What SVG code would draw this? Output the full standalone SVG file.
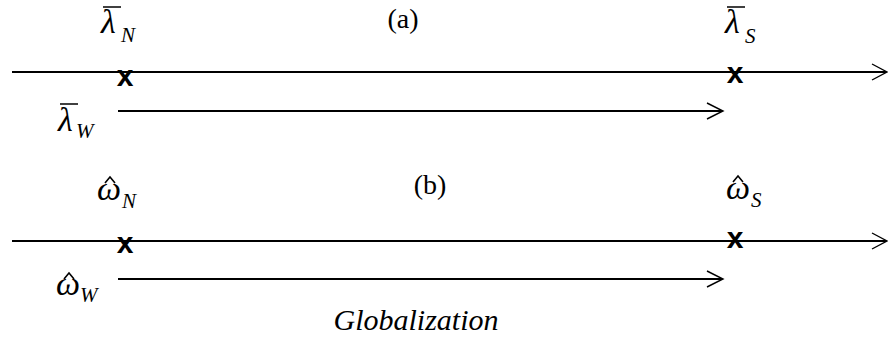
<svg xmlns="http://www.w3.org/2000/svg" width="888" height="338" viewBox="0 0 888 338">
<style>
.ln{stroke:#000;stroke-width:2;fill:none}
.ah{stroke:#000;stroke-width:1.4;fill:none}
.bar{stroke:#000;stroke-width:1.5}
.hat{stroke:#000;stroke-width:1.6;fill:none;stroke-linejoin:miter}
.x{font-family:"Liberation Sans",Arial,sans-serif;font-weight:bold;font-size:30px;fill:#000;text-anchor:middle}
.m{font-family:"Liberation Serif","Times New Roman",serif;font-style:italic;font-size:34px;fill:#000}
.sub{font-size:21px}
.t{font-family:"Liberation Serif","Times New Roman",serif;font-size:28px;fill:#000;text-anchor:middle}
</style>
<rect width="888" height="338" fill="#fff"/>
<g id="connectors">
<line class="ln" x1="12" y1="72" x2="886" y2="72"/>
<polyline class="ah" points="872,64 887,72 872,80"/>
<line class="ln" x1="118" y1="111" x2="722" y2="111"/>
<polyline class="ah" points="707,103 723,111 707,119"/>
<line class="ln" x1="12" y1="241" x2="886" y2="241"/>
<polyline class="ah" points="872,233 887,241 872,249"/>
<line class="ln" x1="118" y1="279" x2="722" y2="279"/>
<polyline class="ah" points="707,271 723,279 707,287"/>
</g>
<g id="label-a"><text class="t" x="403" y="28">(a)</text></g>
<g id="label-b"><text class="t" x="430" y="194">(b)</text></g>
<g id="lambdaN"><line class="bar" x1="103" y1="7" x2="121" y2="7"/><text class="m" x="101" y="33">λ<tspan class="sub" x="121" y="42">N</tspan></text></g>
<g id="lambdaS"><line class="bar" x1="727" y1="7" x2="745" y2="7"/><text class="m" x="725" y="33">λ<tspan class="sub" x="745" y="43">S</tspan></text></g>
<g id="lambdaW"><line class="bar" x1="60" y1="104" x2="78" y2="104"/><text class="m" x="58" y="131">λ<tspan class="sub" x="76" y="138">W</tspan></text></g>
<g id="omegaN"><polyline class="hat" points="105,183 110,177 115,183"/><text class="m" x="97" y="200">ω<tspan class="sub" x="122" y="208">N</tspan></text></g>
<g id="omegaS"><polyline class="hat" points="733,182 738,176 743,182"/><text class="m" x="726" y="199">ω<tspan class="sub" x="751" y="207">S</tspan></text></g>
<g id="omegaW"><polyline class="hat" points="64,279 69,273 74,279"/><text class="m" x="56" y="295">ω<tspan class="sub" x="80" y="302">W</tspan></text></g>
<g id="xN-a"><text class="x" x="125" y="86">x</text></g>
<g id="xS-a"><text class="x" x="735" y="83">x</text></g>
<g id="xN-b"><text class="x" x="125" y="253">x</text></g>
<g id="xS-b"><text class="x" x="735" y="248">x</text></g>
<g id="globalization"><text class="m" x="416" y="330" style="font-size:30px;text-anchor:middle">Globalization</text></g>
</svg>
